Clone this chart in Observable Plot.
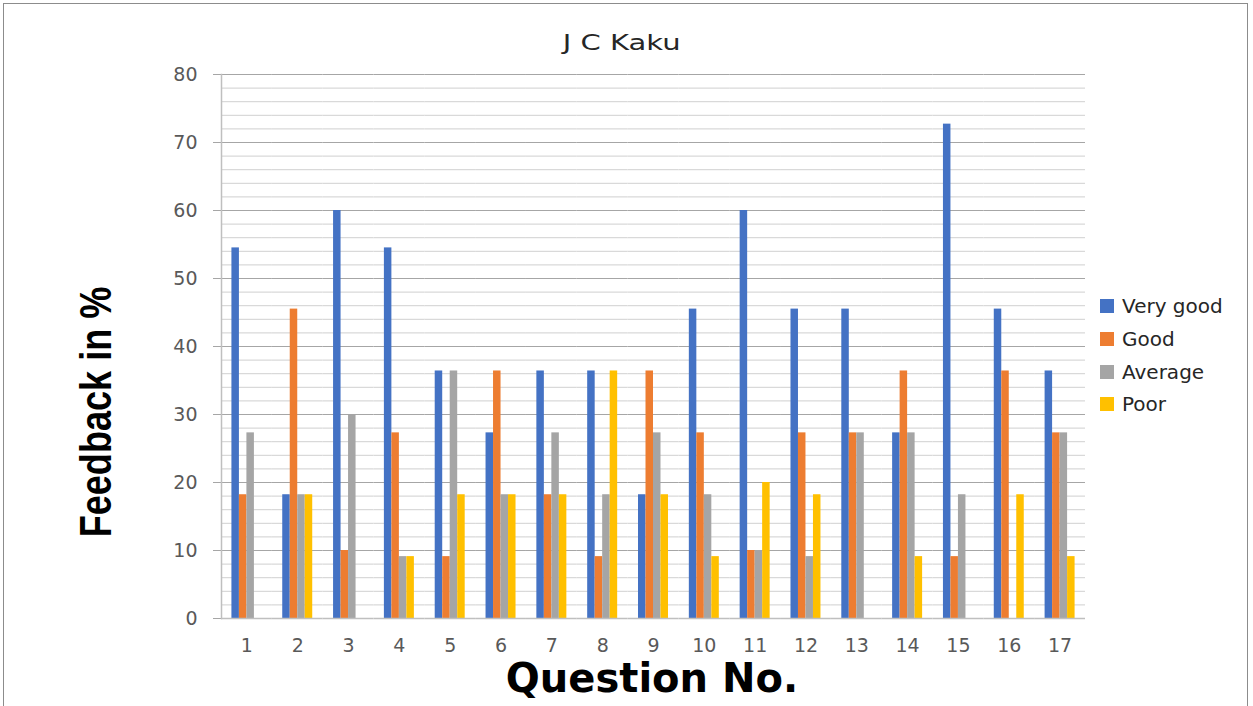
<!DOCTYPE html>
<html>
<head>
<meta charset="utf-8">
<script src="https://cdn.jsdelivr.net/npm/d3@7"></script>
<script src="https://cdn.jsdelivr.net/npm/@observablehq/plot@0.6"></script>
<style>
  html, body { margin: 0; padding: 0; background: #fff; overflow: hidden; }
  #wrap { position: relative; width: 1253px; height: 706px; }
  #border { position: absolute; left: 3px; top: 3px; width: 1245px; height: 720px; border: 1.5px solid #8c8c8c; box-sizing: border-box; }
  #chart { position: absolute; left: 0; top: 0; }
  #title { position: absolute; left: 0; width: 1244px; top: 31px; text-align: center; font-family: "DejaVu Sans", sans-serif; font-size: 21px; color: #262626; }
  #title span { display: inline-block; transform: scaleX(1.38); }
  #ylab { position: absolute; left: 96px; top: 412px; transform: translate(-50%, -50%) rotate(-90deg) scaleX(0.82); font-family: "Liberation Sans", Arial, sans-serif; font-weight: bold; font-size: 44px; color: #000; white-space: nowrap; }
  #xlab { position: absolute; left: 652px; top: 678px; transform: translate(-50%, -50%); font-family: "DejaVu Sans", sans-serif; font-weight: bold; font-size: 40px; color: #000; white-space: nowrap; }
  #legend { position: absolute; left: 1100px; top: 290px; font-family: "DejaVu Sans", sans-serif; font-size: 20px; color: #262626; }
  #legend .row { display: flex; align-items: center; height: 32.7px; }
  #legend .sw { width: 14px; height: 14px; margin-right: 8px; }
</style>
</head>
<body>
<div id="wrap">
  <div id="border"></div>
  <div id="chart"></div>
  <div id="title"><span>J C Kaku</span></div>
  <div id="ylab">Feedback in %</div>
  <div id="xlab">Question No.</div>
  <div id="legend"></div>
</div>
<script>
const questions = ["1","2","3","4","5","6","7","8","9","10","11","12","13","14","15","16","17"];
const seriesNames = ["Very good", "Good", "Average", "Poor"];
const seriesColors = ["#4472C4", "#ED7D31", "#A5A5A5", "#FFC000"];
const veryGood = [54.5, 18.2, 60, 54.5, 36.4, 27.3, 36.4, 36.4, 18.2, 45.5, 60, 45.5, 45.5, 27.3, 72.7, 45.5, 36.4];
const good     = [18.2, 45.5, 10, 27.3, 9.1, 36.4, 18.2, 9.1, 36.4, 27.3, 10, 27.3, 27.3, 36.4, 9.1, 36.4, 27.3];
const average  = [27.3, 18.2, 30, 9.1, 36.4, 18.2, 27.3, 18.2, 27.3, 18.2, 10, 9.1, 27.3, 27.3, 18.2, 0, 27.3];
const poor     = [0, 18.2, 0, 9.1, 18.2, 18.2, 18.2, 36.4, 18.2, 9.1, 20, 18.2, 0, 9.1, 0, 18.2, 9.1];
const yMajorTicks = [0, 10, 20, 30, 40, 50, 60, 70, 80];
const yMinorTicks = d3.range(2, 80, 2).filter(v => v % 10 !== 0);

const seriesValues = [veryGood, good, average, poor];
const data = [];
questions.forEach((q, i) => {
  seriesNames.forEach((s, j) => data.push({q, series: s, value: seriesValues[j][i]}));
});

const chart = Plot.plot({
  width: 1253,
  height: 706,
  marginTop: 74,
  marginBottom: 88,
  marginLeft: 221,
  marginRight: 168,
  style: {fontFamily: "DejaVu Sans, sans-serif", fontSize: "19px", color: "#595959", background: "transparent"},
  fx: {domain: questions, padding: 0, round: false, label: null},
  x: {domain: seriesNames, paddingInner: 0, paddingOuter: 1.39, round: false, axis: null},
  y: {domain: [0, 80], label: null},
  color: {domain: seriesNames, range: seriesColors},
  marks: [
    Plot.ruleY(yMinorTicks, {stroke: "#d9d9d9", strokeWidth: 1.2}),
    Plot.ruleY(yMajorTicks.filter(v => v > 0), {stroke: "#a6a6a6", strokeWidth: 1.2}),
    Plot.axisY({ticks: yMajorTicks, tickSize: 8, tickPadding: 16, stroke: "#a6a6a6", fill: "#595959", label: null}),
    Plot.axisFx({anchor: "bottom", tickSize: 0, tickPadding: 20, fill: "#595959", label: null}),
    Plot.frame({anchor: "left", facet: "super", stroke: "#bfbfbf", strokeWidth: 1.5}),
    Plot.barY(data, {fx: "q", x: "series", y: "value", fill: "series"}),
    Plot.ruleY([0], {stroke: "#bfbfbf", strokeWidth: 1.5})
  ]
});
document.getElementById("chart").appendChild(chart);

const legend = document.getElementById("legend");
seriesNames.forEach((s, i) => {
  const row = document.createElement("div");
  row.className = "row";
  const sw = document.createElement("div");
  sw.className = "sw";
  sw.style.background = seriesColors[i];
  const t = document.createElement("span");
  t.textContent = s;
  row.appendChild(sw);
  row.appendChild(t);
  legend.appendChild(row);
});
</script>
</body>
</html>
